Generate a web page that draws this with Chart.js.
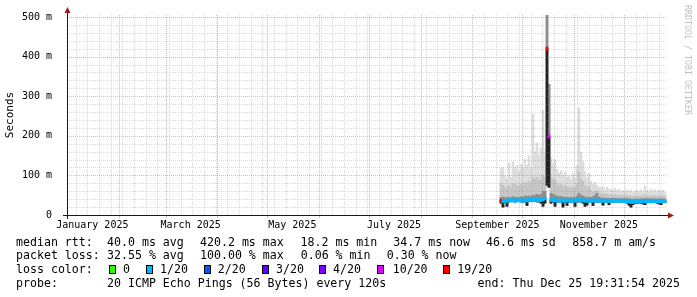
<!DOCTYPE html>
<html>
<head>
<meta charset="utf-8">
<title>SmokePing - last 360 days</title>
<script src="https://cdn.jsdelivr.net/npm/chart.js@4.4.1/dist/chart.umd.min.js"></script>
<style>
    body { margin: 0; background: #fff; }
    #graph-wrap { position: relative; width: 697px; height: 297px; overflow: hidden; font-family: "DejaVu Sans Mono", monospace; color: #000; }
    #graph { position: absolute; left: 0; top: 0; }
    .t { position: absolute; font-size: 11.6px; line-height: 14px; white-space: pre; }
    .box { position: absolute; top: 265px; width: 5px; height: 7px; border: 1px solid #000; }
    #stamp { position: absolute; left: 683px; top: 5px; writing-mode: vertical-rl; font-size: 8.3px; line-height: 9px; color: #c0c0c0; white-space: pre; }
</style>
</head>
<body>
<div id="graph-wrap">
    <canvas id="graph" width="697" height="297"></canvas>
    <div id="legend"></div>
    <div id="stamp">RRDTOOL / TOBI OETIKER</div>
</div>
<script>
// time axis in days since 1 Jan 2025 00:00; graph ends Thu Dec 25 19:31:54 2025
const startDay = -0.19;
const endDay = 359.81;
const firstSampleDay = 260.21;  // first smoke column (mid September)
const sampleStep = 1.2;         // days per column

const monthStarts = [0, 31, 59, 90, 120, 151, 181, 212, 243, 273, 304, 334];
const monthLabels = ['January 2025', 'March 2025', 'May 2025', 'July 2025', 'September 2025', 'November 2025'];
const monthLabelDays = [15, 74, 135, 196, 258, 319];
const firstMonday = 5;

const yMax = 505;
const yMajor = [0, 100, 200, 300, 400, 500];
const yLabels = ['0', '100 m', '200 m', '300 m', '400 m', '500 m'];
const yMinorStep = 20;

// smoke (ms): upper edge of light, medium and dark smoke, median, lowest ping
const smokeMax = [118, 120, 100, 90, 131, 95, 134, 120, 125, 110, 128, 118, 140, 125, 150, 120, 255, 160, 182, 150,
    170, 265, 160, 505, 330, 146, 130, 140, 115, 105, 112, 100, 108, 95, 100, 90, 105, 92, 125, 270,
    158, 135, 110, 95, 105, 85, 78, 82, 75, 70, 68, 72, 65, 70, 64, 66, 62, 68, 62, 65,
    60, 62, 58, 64, 60, 62, 58, 60, 62, 58, 64, 60, 73, 62, 58, 65, 60, 64, 58, 62,
    60, 63, 58];
const smokeMid = [80, 75, 70, 68, 75, 70, 80, 78, 75, 72, 78, 75, 82, 80, 85, 78, 95, 90, 95, 88,
    92, 100, 95, 505, 330, 95, 90, 90, 80, 75, 78, 72, 75, 70, 72, 68, 72, 68, 80, 110,
    90, 85, 75, 70, 72, 62, 58, 60, 62, 55, 52, 55, 52, 54, 50, 52, 50, 52, 50, 50,
    48, 50, 48, 50, 48, 48, 47, 48, 48, 47, 50, 48, 52, 48, 47, 50, 48, 49, 47, 48,
    48, 49, 47];
const smokeDark = [45, 45, 44, 44, 45, 44, 46, 45, 45, 44, 46, 45, 48, 47, 48, 46, 50, 50, 52, 50,
    52, 60, 60, 505, 330, 55, 52, 50, 48, 46, 47, 45, 45, 45, 44, 44, 45, 44, 48, 55,
    50, 48, 46, 44, 45, 44, 46, 50, 55, 45, 43, 43, 42, 42, 42, 42, 42, 42, 41, 41,
    41, 41, 41, 42, 41, 40, 40, 40, 41, 40, 41, 41, 42, 41, 41, 41, 41, 41, 40, 41,
    41, 41, 40];
const median = [36, 35, 36, 36, 37, 37, 37, 36, 37, 37, 37, 36, 37, 37, 38, 37, 38, 38, 38, 37,
    38, 40, 42, 420, 198, 38, 37, 37, 37, 36, 37, 36, 37, 36, 37, 36, 37, 36, 37, 38,
    37, 37, 36, 36, 37, 36, 36, 37, 37, 36, 36, 36, 36, 36, 35, 36, 36, 36, 36, 36,
    36, 36, 35, 35, 34, 33, 33, 34, 34, 34, 35, 35, 35, 35, 35, 35, 35, 35, 35, 35,
    35, 35, 35];
const smokeMin = [30, 20, 33, 22, 33, 34, 34, 33, 34, 34, 33, 33, 33, 24, 34, 34, 34, 34, 33, 33,
    30, 22, 30, 75, 70, 30, 33, 22, 33, 33, 33, 20, 33, 24, 33, 33, 33, 22, 33, 33,
    33, 30, 22, 25, 33, 33, 24, 33, 33, 33, 33, 25, 33, 33, 26, 33, 33, 33, 33, 33,
    33, 33, 33, 30, 25, 20, 26, 29, 30, 30, 30, 28, 26, 32, 32, 32, 32, 32, 30, 28,
    26, 32, 32];
// lost pings out of 20 for each column
const loss = [19, 1, 1, 1, 1, 1, 1, 1, 1, 1, 1, 1, 1, 1, 1, 1, 1, 1, 1, 1,
    1, 1, 1, 19, 10, 1, 1, 1, 1, 1, 1, 1, 1, 1, 1, 1, 1, 1, 1, 1,
    1, 1, 1, 1, 1, 1, 1, 1, 1, 1, 1, 1, 1, 1, 1, 1, 1, 1, 1, 1,
    1, 1, 1, 1, 1, 1, 1, 1, 1, 1, 1, 1, 1, 1, 1, 1, 1, 1, 1, 1,
    1, 1, 1];

const lossSteps = [0, 1, 2, 3, 4, 10, 19];
const lossLabels = ['0', '1/20', '2/20', '3/20', '4/20', '10/20', '19/20'];
const lossColors = { 0: '#26ff00', 1: '#00b8ff', 2: '#0059ff', 3: '#5e00ff', 4: '#7e00ff', 10: '#dd00ff', 19: '#ff0000' };

const statRows = [
    ['median rtt:', '40.0 ms avg', '420.2 ms max', '18.2 ms min', '34.7 ms now', '46.6 ms sd', '858.7 m am/s'],
    ['packet loss:', '32.55 % avg', '100.00 % max', '0.06 % min', '0.30 % now']
];
const probeText = '20 ICMP Echo Pings (56 Bytes) every 120s';
const endText = 'end: Thu Dec 25 19:31:54 2025';

var GRID = 'rgba(140, 140, 140, 0.32)';
var MGRID = 'rgba(255, 70, 70, 0.45)';
var medianHalf = 4;

// ---- legend under the graph ----
var legend = document.getElementById('legend');
function addText(x, top, str) {
    var s = document.createElement('span');
    s.className = 't';
    s.style.left = x + 'px';
    s.style.top = top + 'px';
    s.textContent = str;
    legend.appendChild(s);
    return s;
}
var rowTops = [234.7, 248.3, 262, 275.7];
var statX = [[16, 107, 200, 300.5, 393.3, 486, 572.3], [16, 107, 200, 300.7, 386.7]];
statRows.forEach(function (row, r) {
    row.forEach(function (txt, i) { addText(statX[r][i], rowTops[r], txt); });
});
addText(16, rowTops[2], 'loss color:');
var boxX = [108.7, 146, 204, 261.7, 319, 376.7, 442.7];
var boxLabelX = [123, 160, 217.7, 276, 333, 392.7, 457.3];
lossSteps.forEach(function (step, i) {
    var b = document.createElement('div');
    b.className = 'box';
    b.style.left = boxX[i] + 'px';
    b.style.background = lossColors[step];
    legend.appendChild(b);
    addText(boxLabelX[i], rowTops[2], lossLabels[i]);
});
addText(16, rowTops[3], 'probe:');
addText(107, rowTops[3], probeText);
var endSpan = addText(0, rowTops[3], endText);
endSpan.style.left = 'auto';
endSpan.style.right = '17px';

// ---- chart ----
var xs = median.map(function (_, i) { return firstSampleDay + i * sampleStep; });
function band(lo, hi) {
    return xs.map(function (x, i) { return { x: x, y: [lo[i], hi[i]] }; });
}
var medianBars = xs.map(function (x, i) { return { x: x, y: [median[i] - medianHalf, median[i] + medianHalf] }; });

var weekDays = [];
for (let d = firstMonday; d < endDay; d += 7) weekDays.push(d);
var yMinor = [];
for (let v = yMinorStep; v < yMax; v += yMinorStep) if (yMajor.indexOf(v) < 0) yMinor.push(v);

// rrdtool style dotted grid, drawn over the smoke like the original
var rrdGrid = {
    id: 'rrdGrid',
    afterDatasetsDraw: function (chart) {
        var ctx = chart.ctx, a = chart.chartArea;
        var sx = chart.scales.x, sy = chart.scales.y;
        function hline(v, color) {
            var y = Math.round(sy.getPixelForValue(v)) + 0.5;
            ctx.strokeStyle = color;
            ctx.beginPath(); ctx.moveTo(a.left, y); ctx.lineTo(a.right, y); ctx.stroke();
        }
        function vline(v, color) {
            var x = Math.round(sx.getPixelForValue(v)) + 0.5;
            ctx.strokeStyle = color;
            ctx.beginPath(); ctx.moveTo(x, a.top); ctx.lineTo(x, a.bottom); ctx.stroke();
        }
        ctx.save();
        ctx.lineWidth = 1;
        ctx.setLineDash([1, 1]);
        yMinor.forEach(function (v) { hline(v, GRID); });
        weekDays.forEach(function (d) { if (monthStarts.indexOf(d) < 0) vline(d, GRID); });
        yMajor.forEach(function (v) { if (v > 0) hline(v, MGRID); });
        monthStarts.forEach(function (d) { vline(d, MGRID); });
        ctx.setLineDash([]);
        // small month ticks under the axis
        monthStarts.forEach(function (d) {
            var x = Math.round(sx.getPixelForValue(d)) + 0.5;
            ctx.strokeStyle = MGRID;
            ctx.beginPath(); ctx.moveTo(x, a.bottom + 1); ctx.lineTo(x, a.bottom + 3); ctx.stroke();
        });
        // axes with arrows
        ctx.strokeStyle = '#1a1a1a';
        ctx.beginPath();
        ctx.moveTo(a.left - 4, a.bottom + 0.5);
        ctx.lineTo(a.right + 2, a.bottom + 0.5);
        ctx.moveTo(a.left + 0.5, a.bottom + 4);
        ctx.lineTo(a.left + 0.5, a.top - 2);
        ctx.stroke();
        ctx.fillStyle = '#961e1e';
        ctx.beginPath();
        ctx.moveTo(a.right + 1, a.bottom - 2.5);
        ctx.lineTo(a.right + 7, a.bottom + 0.5);
        ctx.lineTo(a.right + 1, a.bottom + 3.5);
        ctx.closePath();
        ctx.fill();
        ctx.beginPath();
        ctx.moveTo(a.left - 2.5, a.top - 2);
        ctx.lineTo(a.left + 0.5, a.top - 8);
        ctx.lineTo(a.left + 3.5, a.top - 2);
        ctx.closePath();
        ctx.fill();
        ctx.restore();
    }
};

new Chart(document.getElementById('graph'), {
    type: 'bar',
    data: {
        datasets: [
            { label: 'median', data: medianBars, backgroundColor: loss.map(function (l) { return lossColors[l]; }), order: 0 },
            { label: 'low', data: band(smokeMin, median), backgroundColor: '#222222', order: 1 },
            { label: 'dark', data: band(smokeMin, smokeDark), backgroundColor: '#8e8e8e', order: 2 },
            { label: 'mid', data: band(smokeMin, smokeMid), backgroundColor: '#c6c6c6', order: 3 },
            { label: 'max', data: band(smokeMin, smokeMax), backgroundColor: '#dedede', order: 4 }
        ]
    },
    options: {
        responsive: false,
        animation: false,
        devicePixelRatio: 1,
        layout: { padding: { left: 0, right: 30, top: 15, bottom: 62 } },
        datasets: { bar: { grouped: false, barThickness: 2, borderWidth: 0 } },
        plugins: { legend: { display: false }, tooltip: { enabled: false } },
        scales: {
            x: {
                type: 'linear',
                min: startDay,
                max: endDay,
                offset: false,
                afterBuildTicks: function (scale) { scale.ticks = monthLabelDays.map(function (v) { return { value: v }; }); },
                afterFit: function (scale) { scale.height = 20; },
                border: { display: false },
                grid: { display: true, drawOnChartArea: false, drawTicks: true, tickLength: 3, color: 'rgba(0,0,0,0)', tickColor: 'rgba(0,0,0,0)' },
                ticks: {
                    autoSkip: false,
                    maxRotation: 0,
                    padding: 1,
                    color: '#000',
                    font: { family: 'DejaVu Sans Mono', size: 10 },
                    callback: function (v) {
                        var i = monthLabelDays.indexOf(v);
                        return i >= 0 ? monthLabels[i] : '';
                    }
                }
            },
            y: {
                min: 0,
                max: yMax,
                afterBuildTicks: function (scale) { scale.ticks = yMajor.map(function (v) { return { value: v }; }); },
                afterFit: function (scale) { scale.width = 67; },
                border: { display: false },
                grid: { display: false },
                title: {
                    display: true,
                    text: 'Seconds',
                    color: '#000',
                    font: { family: 'DejaVu Sans Mono', size: 11 },
                    padding: { top: 4, bottom: 0 }
                },
                ticks: {
                    autoSkip: false,
                    padding: 7,
                    color: '#000',
                    font: { family: 'DejaVu Sans Mono', size: 10 },
                    callback: function (v) {
                        var i = yMajor.indexOf(v);
                        return i >= 0 ? yLabels[i] : '';
                    }
                }
            }
        }
    },
    plugins: [rrdGrid]
});
</script>
</body>
</html>
